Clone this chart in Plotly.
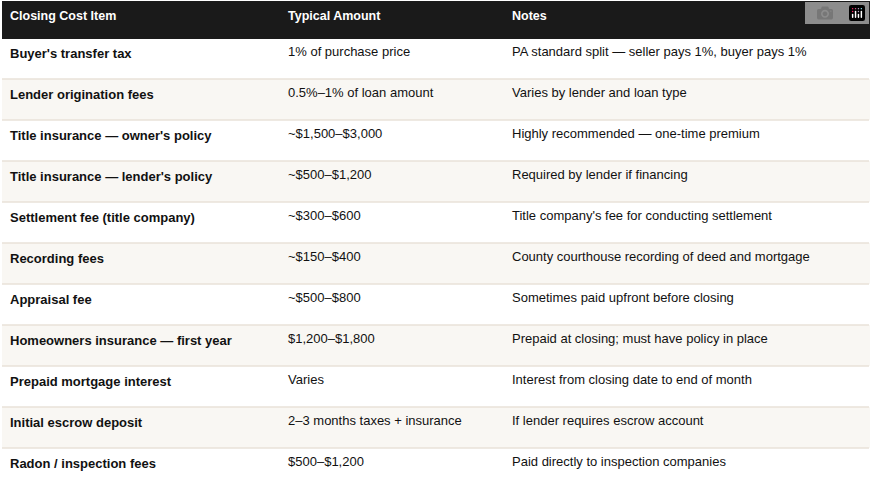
import plotly.graph_objects as go

headers = ["Closing Cost Item", "Typical Amount", "Notes"]
items = ["Buyer's transfer tax", "Lender origination fees", "Title insurance — owner's policy",
         "Title insurance — lender's policy", "Settlement fee (title company)", "Recording fees",
         "Appraisal fee", "Homeowners insurance — first year", "Prepaid mortgage interest",
         "Initial escrow deposit", "Radon / inspection fees"]
amounts = ["1% of purchase price", "0.5%–1% of loan amount", "~$1,500–$3,000", "~$500–$1,200",
           "~$300–$600", "~$150–$400", "~$500–$800", "$1,200–$1,800", "Varies",
           "2–3 months taxes + insurance", "$500–$1,200"]
notes = ["PA standard split — seller pays 1%, buyer pays 1%", "Varies by lender and loan type",
         "Highly recommended — one-time premium", "Required by lender if financing",
         "Title company's fee for conducting settlement", "County courthouse recording of deed and mortgage",
         "Sometimes paid upfront before closing", "Prepaid at closing; must have policy in place",
         "Interest from closing date to end of month", "If lender requires escrow account",
         "Paid directly to inspection companies"]

n = len(items)
fills = ["#ffffff" if i % 2 == 0 else "#f9f7f3" for i in range(n)]
W, H = 871, 493
mt, mb = 1, 4
hh, ch = 37, 41

fig = go.Figure(go.Table(
    columnwidth=[278, 224, 365],
    header=dict(values=[f"<b>{h}</b>" for h in headers], fill_color="#1a1a1a",
                line=dict(color="#1a1a1a", width=1),
                font=dict(color="white", size=12.5, family="Liberation Sans, Arial"),
                align="left", height=hh),
    cells=dict(values=[[f"<b>{t}</b>" for t in items], amounts, notes],
               fill_color=[fills] * 3, line=dict(color=[fills] * 3, width=1),
               font=dict(color="#111111", size=13, family="Liberation Sans, Arial"),
               align="left", height=ch),
))
plot_h = H - mt - mb
shapes = []
for i in range(1, n):
    y = 1 - (hh + i * ch) / plot_h
    shapes.append(dict(type="line", xref="paper", yref="paper", x0=0, x1=1, y0=y, y1=y,
                       line=dict(color="#e8e2d8", width=1.5)))
fig.update_layout(width=W, height=H, margin=dict(l=2, r=2, t=mt, b=mb),
                  paper_bgcolor="white", shapes=shapes)
fig.write_html("out.html", post_script="document.body.style.margin='0';")
